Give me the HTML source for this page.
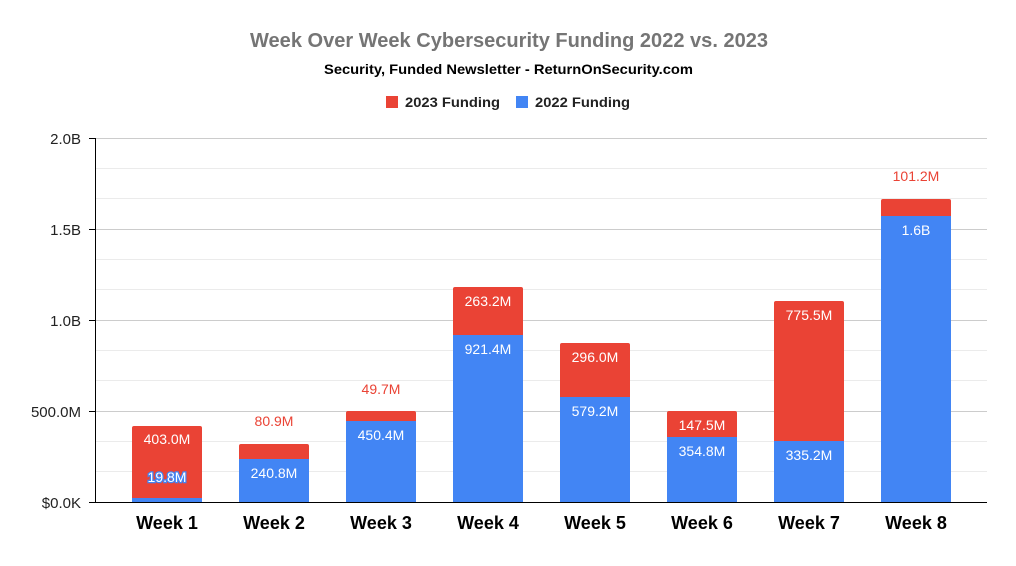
<!DOCTYPE html>
<html><head><style>
body{margin:0;background:#fff;}
svg text{font-family:"Liberation Sans",Arial,sans-serif;}
</style></head><body>
<svg width="1016" height="561" xmlns="http://www.w3.org/2000/svg">
<rect width="1016" height="561" fill="#fff"/>
<text x="250" y="47" textLength="518" lengthAdjust="spacingAndGlyphs" font-size="20" font-weight="bold" fill="#757575">Week Over Week Cybersecurity Funding 2022 vs. 2023</text>
<text x="324" y="74" textLength="369" lengthAdjust="spacingAndGlyphs" font-size="14" font-weight="bold" fill="#000">Security, Funded Newsletter - ReturnOnSecurity.com</text>
<rect x="386" y="96" width="12" height="12" fill="#ea4335"/>
<text x="405" y="107" textLength="95" lengthAdjust="spacingAndGlyphs" font-size="14" font-weight="bold" fill="#222">2023 Funding</text>
<rect x="516" y="96" width="12" height="12" fill="#4285f4"/>
<text x="535" y="107" textLength="95" lengthAdjust="spacingAndGlyphs" font-size="14" font-weight="bold" fill="#222">2022 Funding</text>
<g stroke="#ebebeb" stroke-width="1">
<line x1="96" x2="987" y1="168.5" y2="168.5"/><line x1="96" x2="987" y1="198.5" y2="198.5"/>
<line x1="96" x2="987" y1="259.5" y2="259.5"/><line x1="96" x2="987" y1="289.5" y2="289.5"/>
<line x1="96" x2="987" y1="350.5" y2="350.5"/><line x1="96" x2="987" y1="380.5" y2="380.5"/>
<line x1="96" x2="987" y1="441.5" y2="441.5"/><line x1="96" x2="987" y1="471.5" y2="471.5"/>
</g>
<g stroke="#cccccc" stroke-width="1">
<line x1="96" x2="987" y1="138.5" y2="138.5"/><line x1="96" x2="987" y1="229.5" y2="229.5"/>
<line x1="96" x2="987" y1="320.5" y2="320.5"/><line x1="96" x2="987" y1="411.5" y2="411.5"/>
</g>
<g stroke="#000" stroke-width="1">
<line x1="95.5" x2="95.5" y1="138" y2="502"/>
<line x1="89" x2="987" y1="502.5" y2="502.5"/>
<line x1="89" x2="96" y1="138.5" y2="138.5"/><line x1="89" x2="96" y1="229.5" y2="229.5"/>
<line x1="89" x2="96" y1="320.5" y2="320.5"/><line x1="89" x2="96" y1="411.5" y2="411.5"/>
</g>
<g font-size="15" fill="#222" text-anchor="end">
<text x="81" y="144">2.0B</text><text x="81" y="235">1.5B</text><text x="81" y="326">1.0B</text><text x="81" y="417">500.0M</text><text x="81" y="508">$0.0K</text>
</g>
<g>
<rect x="132" y="426" width="70" height="76" rx="2" fill="#ea4335"/><rect x="132" y="498" width="70" height="4" fill="#4285f4"/>
<rect x="239" y="444" width="70" height="58" rx="2" fill="#ea4335"/><rect x="239" y="459" width="70" height="43" fill="#4285f4"/>
<rect x="346" y="411" width="70" height="91" rx="2" fill="#ea4335"/><rect x="346" y="421" width="70" height="81" fill="#4285f4"/>
<rect x="453" y="287" width="70" height="215" rx="2" fill="#ea4335"/><rect x="453" y="335" width="70" height="167" fill="#4285f4"/>
<rect x="560" y="343" width="70" height="159" rx="2" fill="#ea4335"/><rect x="560" y="397" width="70" height="105" fill="#4285f4"/>
<rect x="667" y="411" width="70" height="91" rx="2" fill="#ea4335"/><rect x="667" y="437" width="70" height="65" fill="#4285f4"/>
<rect x="774" y="301" width="70" height="201" rx="2" fill="#ea4335"/><rect x="774" y="441" width="70" height="61" fill="#4285f4"/>
<rect x="881" y="199" width="70" height="303" rx="2" fill="#ea4335"/><rect x="881" y="216" width="70" height="286" fill="#4285f4"/>
</g>
<g font-size="14" text-anchor="middle" fill="#fff">
<text x="167" y="444">403.0M</text>
<text x="167" y="482" stroke="#4285f4" stroke-width="2.5" paint-order="stroke">19.8M</text>
<text x="274" y="478">240.8M</text>
<text x="381" y="440">450.4M</text>
<text x="488" y="306">263.2M</text><text x="488" y="354">921.4M</text>
<text x="595" y="362">296.0M</text><text x="595" y="416">579.2M</text>
<text x="702" y="430">147.5M</text><text x="702" y="456">354.8M</text>
<text x="809" y="320">775.5M</text><text x="809" y="460">335.2M</text>
<text x="916" y="235">1.6B</text>
</g>
<g font-size="14" text-anchor="middle" fill="#ea4335">
<text x="274" y="426">80.9M</text><text x="381" y="394">49.7M</text><text x="916" y="181">101.2M</text>
</g>
<g font-size="18" font-weight="bold" text-anchor="middle" fill="#000">
<text x="167" y="529">Week 1</text><text x="274" y="529">Week 2</text><text x="381" y="529">Week 3</text><text x="488" y="529">Week 4</text>
<text x="595" y="529">Week 5</text><text x="702" y="529">Week 6</text><text x="809" y="529">Week 7</text><text x="916" y="529">Week 8</text>
</g>
</svg>
</body></html>
